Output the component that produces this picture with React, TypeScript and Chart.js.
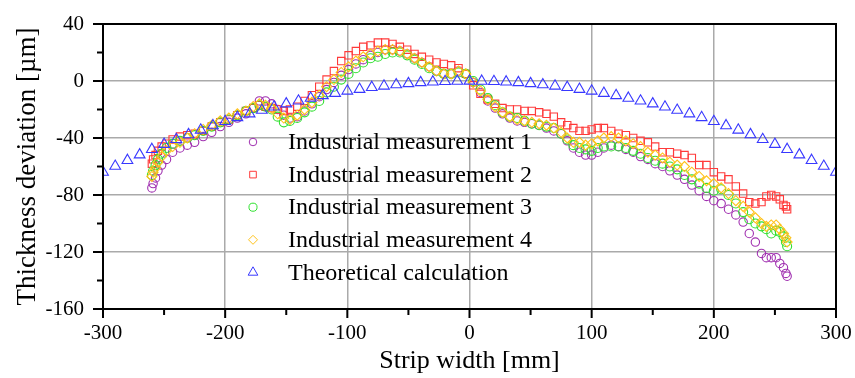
import React, { useEffect, useRef } from "react";
import { Chart, registerables } from "chart.js";

Chart.register(...registerables);

// ---------- data ----------
const seriesNames = [
  "Industrial measurement 1",
  "Industrial measurement 2",
  "Industrial measurement 3",
  "Industrial measurement 4",
  "Theoretical calculation",
];

const measX = [
  -260, -259, -257, -255, -252, -248, -243, -237, -231, -225, -218, -211, -204, -197, -190, -183,
  -177, -172, -167, -162, -157, -152, -147, -141, -135, -129, -123, -117, -111, -105, -99, -93,
  -87, -81, -75, -69, -63, -57, -51, -45, -39, -33, -27, -21, -15, -9, -3, 3,
  9, 15, 21, 27, 33, 39, 45, 51, 57, 63, 69, 75, 80, 85, 90, 95,
  100, 105, 110, 116, 122, 128, 134, 140, 146, 152, 158, 164, 170, 176, 182, 188,
  194, 200, 206, 212, 218, 224, 229, 234, 239, 243, 247, 251, 254, 257, 259, 260,
];

const meas1 = [
  -75, -72, -68, -63, -59, -55, -50, -47, -45, -43, -39, -36, -32, -29, -26, -23,
  -19, -14, -14, -16, -20, -24, -26, -25, -21, -16, -11, -6, -1, 4, 8, 12,
  15, 18, 20, 22, 22, 21, 19, 16, 13, 10, 7, 5, 5, 7, 5, -1,
  -8, -14, -19, -23, -26, -28, -29, -30, -31, -33, -35, -37, -42, -47, -50, -52,
  -52, -50, -47, -45, -46, -48, -50, -53, -55, -58, -60, -63, -66, -69, -73, -77,
  -81, -84, -86, -90, -94, -99, -107, -113, -121, -124, -124, -124, -128, -131, -135, -137,
];

const meas2 = [
  -58, -55, -52, -49, -46, -44, -41, -39, -38, -37, -35, -32, -29, -27, -24, -21,
  -19, -17, -18, -19, -20, -21, -20, -18, -14, -10, -4, 1, 7, 14, 18, 21,
  24, 25, 27, 27, 26, 24, 22, 19, 17, 15, 13, 12, 11, 9, 5, -3,
  -9, -13, -16, -19, -20, -20, -21, -21, -22, -23, -25, -29, -31, -33, -35, -35,
  -34, -33, -33, -35, -37, -38, -40, -42, -43, -46, -50, -50, -51, -52, -54, -59,
  -59, -64, -67, -69, -74, -79, -85, -86, -85, -81, -80, -81, -83, -87, -88, -90,
];

const meas3 = [
  -66, -63, -59, -55, -51, -47, -44, -42, -40, -38, -35, -32, -29, -27, -24, -21,
  -19, -17, -18, -20, -25, -29, -28, -26, -22, -18, -14, -8, -4, 1, 5, 9,
  13, 16, 17, 19, 20, 20, 18, 15, 12, 9, 7, 5, 5, 6, 5, 0,
  -6, -12, -17, -22, -25, -26, -28, -30, -31, -32, -33, -37, -41, -45, -47, -48,
  -49, -47, -46, -46, -46, -47, -49, -51, -54, -56, -58, -60, -62, -66, -69, -72,
  -75, -77, -76, -80, -86, -92, -97, -100, -102, -104, -107, -105, -106, -109, -113, -116,
];

const meas4 = [
  -67, -64, -61, -57, -53, -49, -46, -43, -40, -37, -34, -31, -28, -26, -23, -21,
  -18, -16, -17, -19, -23, -26, -27, -24, -20, -15, -10, -4, 1, 6, 10, 14,
  17, 19, 21, 22, 22, 21, 19, 16, 13, 10, 7, 5, 5, 7, 5, -1,
  -7, -13, -18, -22, -25, -27, -28, -29, -30, -31, -33, -36, -40, -43, -43, -45,
  -44, -42, -40, -39, -40, -42, -44, -46, -50, -52, -54, -57, -59, -60, -64, -67,
  -70, -72, -75, -79, -84, -88, -92, -96, -100, -102, -101, -101, -104, -107, -110, -113,
];

const theoX = [
  -300, -290, -280, -270, -260, -250, -240, -230, -220, -210, -200, -190, -180, -170, -160, -150,
  -140, -130, -120, -110, -100, -90, -80, -70, -60, -50, -40, -30, -20, -10, 0,
  10, 20, 30, 40, 50, 60, 70, 80, 90, 100, 110, 120, 130, 140, 150,
  160, 170, 180, 190, 200, 210, 220, 230, 240, 250, 260, 270, 280, 290, 300,
];

const theoY = [
  -64, -59.8, -55.7, -51.8, -48, -44.4, -41, -37.6, -34.4, -31.3, -28.4, -25.6, -23, -20.5, -18.2, -16,
  -14, -12, -10.2, -8.6, -7, -5.8, -4.5, -3.5, -2.6, -1.8, -1.1, -0.6, -0.3, -0.1, 0,
  -0.1, -0.3, -0.6, -1.1, -1.8, -2.6, -3.5, -4.5, -5.8, -7, -8.6, -10.2, -12, -14, -16,
  -18.2, -20.5, -23, -25.6, -28.4, -31.3, -34.4, -37.6, -41, -44.4, -48, -51.8, -55.7, -59.8, -64,
];

const X_MIN = -300, X_MAX = 300, X_STEP = 100, X_MINOR = 50;
const Y_MIN = -160, Y_MAX = 40, Y_STEP = 40, Y_MINOR = 20;
const xTitle = "Strip width [mm]";
const yTitle = "Thickness deviation [µm]";

// ---------- styles ----------
const FONT = "'Liberation Serif', 'Times New Roman', serif";
const colors = ["#a030b0", "#ff3a3a", "#30e030", "#ffc21a", "#3838ff"];
const shapes = ["circle", "rect", "circle", "rectRot", "triangle"];
const radii = [4.2, 5.2, 4.5, 5, 6.2];

function drawMarker(ctx: CanvasRenderingContext2D, shape: string, x: number, y: number, r: number) {
  ctx.beginPath();
  if (shape === "circle") {
    ctx.arc(x, y, r, 0, Math.PI * 2);
  } else if (shape === "rect") {
    const s = Math.SQRT1_2 * r;
    ctx.rect(x - s, y - s, 2 * s, 2 * s);
  } else if (shape === "rectRot") {
    ctx.moveTo(x - r, y);
    ctx.lineTo(x, y - r);
    ctx.lineTo(x + r, y);
    ctx.lineTo(x, y + r);
    ctx.closePath();
  } else {
    for (let k = 0; k < 3; k++) {
      const a = (k * 2 * Math.PI) / 3;
      const px = x + Math.sin(a) * r;
      const py = y - Math.cos(a) * r;
      if (k === 0) ctx.moveTo(px, py);
      else ctx.lineTo(px, py);
    }
    ctx.closePath();
  }
  ctx.stroke();
}

const framePlugin = {
  id: "frameAndLegend",
  afterDraw(chart: any) {
    const { ctx, chartArea: a, scales } = chart;
    const xs = scales.x;
    const ys = scales.y;
    ctx.save();
    // frame
    ctx.strokeStyle = "#000";
    ctx.lineWidth = 2;
    ctx.strokeRect(a.left, a.top, a.right - a.left, a.bottom - a.top);
    // ticks
    ctx.beginPath();
    for (let v = X_MIN; v <= X_MAX; v += X_MINOR) {
      const px = xs.getPixelForValue(v);
      const len = (v - X_MIN) % X_STEP === 0 ? 9 : 6;
      ctx.moveTo(px, a.bottom);
      ctx.lineTo(px, a.bottom + len);
    }
    for (let v = Y_MIN; v <= Y_MAX; v += Y_MINOR) {
      const py = ys.getPixelForValue(v);
      const len = (v - Y_MIN) % Y_STEP === 0 ? 10 : 6;
      ctx.moveTo(a.left, py);
      ctx.lineTo(a.left - len, py);
    }
    ctx.stroke();

    // axis titles
    ctx.fillStyle = "#000";
    ctx.font = `26px ${FONT}`;
    ctx.textAlign = "center";
    ctx.textBaseline = "middle";
    ctx.fillText(xTitle, (a.left + a.right) / 2, 361);
    ctx.save();
    ctx.translate(28, (a.top + a.bottom) / 2);
    ctx.rotate(-Math.PI / 2);
    ctx.font = `27px ${FONT}`;
    ctx.fillText(yTitle, 0, 0);
    ctx.restore();

    // legend
    const lx = 253, ly0 = 142, ldy = 32.6, tx = 288;
    ctx.font = `24px ${FONT}`;
    ctx.textAlign = "left";
    ctx.textBaseline = "middle";
    seriesNames.forEach((name, i) => {
      const y = ly0 + i * ldy;
      ctx.strokeStyle = colors[i];
      ctx.lineWidth = 1;
      drawMarker(ctx, shapes[i], lx, y, radii[i] * 0.9);
      ctx.fillStyle = "#000";
      ctx.fillText(name, tx, y + 1);
    });
    ctx.restore();
  },
};

export default function App() {
  const ref = useRef<HTMLCanvasElement>(null);

  useEffect(() => {
    const measSets = [meas1, meas2, meas3, meas4];
    const datasets: any[] = measSets.map((vals, i) => ({
      label: seriesNames[i],
      data: measX.map((x, k) => ({ x, y: vals[k] })),
      showLine: false,
      pointStyle: shapes[i],
      pointRadius: radii[i],
      pointHoverRadius: radii[i],
      pointBorderWidth: 1.1,
      pointBorderColor: colors[i],
      pointBackgroundColor: "rgba(0,0,0,0)",
      borderColor: colors[i],
      backgroundColor: "rgba(0,0,0,0)",
      order: 4 - i,
    }));
    datasets.push({
      label: seriesNames[4],
      data: theoX.map((x, k) => ({ x, y: theoY[k] })),
      showLine: false,
      pointStyle: shapes[4],
      pointRadius: radii[4],
      pointHoverRadius: radii[4],
      pointBorderWidth: 1.1,
      pointBorderColor: colors[4],
      pointBackgroundColor: "rgba(0,0,0,0)",
      borderColor: colors[4],
      backgroundColor: "rgba(0,0,0,0)",
      order: 0,
    });

    const chart = new Chart(ref.current as HTMLCanvasElement, {
      type: "scatter",
      data: { datasets },
      options: {
        animation: false,
        responsive: false,
        maintainAspectRatio: false,
        events: [],
        layout: { padding: { top: 24, right: 19, left: 0, bottom: 0 } },
        plugins: { legend: { display: false }, tooltip: { enabled: false } },
        scales: {
          x: {
            type: "linear",
            min: X_MIN,
            max: X_MAX,
            afterFit: (s: any) => {
              s.height = 69;
              s.paddingLeft = 0;
              s.paddingRight = 0;
            },
            ticks: {
              stepSize: X_STEP,
              color: "#000",
              padding: 12,
              maxRotation: 0,
              font: { family: FONT, size: 21 },
            },
            grid: { color: "#aaaaaa", lineWidth: 1.5, drawTicks: false },
            border: { display: false },
          },
          y: {
            type: "linear",
            min: Y_MIN,
            max: Y_MAX,
            afterFit: (s: any) => {
              s.width = 103;
              s.paddingTop = 0;
              s.paddingBottom = 0;
            },
            ticks: {
              stepSize: Y_STEP,
              color: "#000",
              padding: 19,
              font: { family: FONT, size: 21 },
            },
            grid: { color: "#aaaaaa", lineWidth: 1.5, drawTicks: false },
            border: { display: false },
          },
        },
      },
      plugins: [framePlugin],
    });
    return () => chart.destroy();
  }, []);

  return (
    <div style={{ position: "fixed", left: 0, top: 0, width: 855, height: 378, background: "#fff" }}>
      <canvas ref={ref} width={855} height={378} style={{ width: 855, height: 378, display: "block" }} />
    </div>
  );
}
